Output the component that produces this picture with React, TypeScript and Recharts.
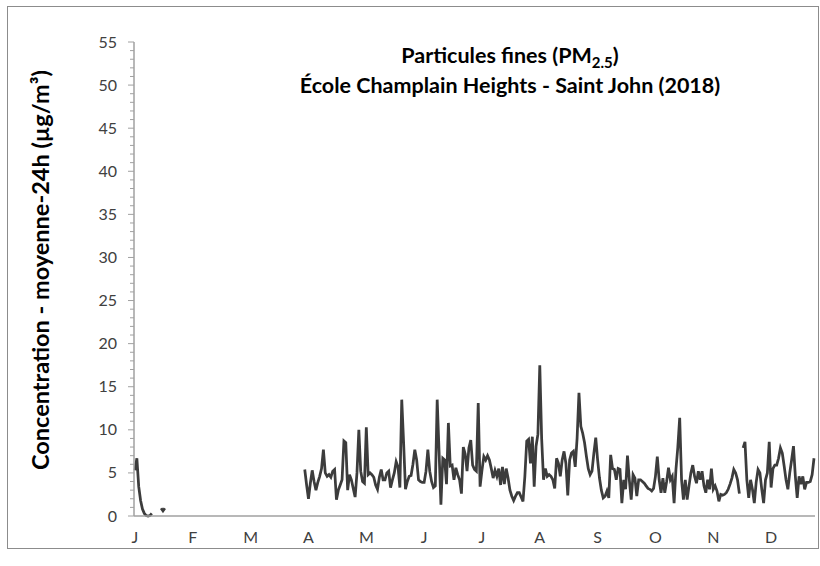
import React from 'react';
import { LineChart, Line, XAxis, YAxis } from 'recharts';

const monthLetters = ['J', 'F', 'M', 'A', 'M', 'J', 'J', 'A', 'S', 'O', 'N', 'D'];
const N = null;

// Daily 24h-average PM2.5 (µg/m³), 2018, one array per month (null = no data)
const jan = [5.3, 6.7, 3.4, 1.8, 0.8, 0.3, 0.05, 0, 0.05, 0.3, N, N, N, N, 0.9, 0.6, 0.9, N, N, N, N, N, N, N, N, N, N, N, N, N, N];
const feb = [N, N, N, N, N, N, N, N, N, N, N, N, N, N, N, N, N, N, N, N, N, N, N, N, N, N, N, N];
const mar = [N, N, N, N, N, N, N, N, N, N, N, N, N, N, N, N, N, N, N, N, N, N, N, N, N, N, N, N, N, N, N];
const apr = [N, 5.4, 3.6, 2.0, 3.8, 5.3, 4.0, 3.0, 3.9, 4.6, 5.5, 7.7, 5.0, 4.6, 4.8, 4.5, 5.2, 5.4, 1.9, 3.0, 3.6, 4.2, 8.7, 8.5, 3.0, 4.8, 4.2, 3.2, 2.2, 5.0];
const may = [10.0, 5.2, 4.0, 3.8, 10.3, 4.8, 5.0, 4.8, 4.5, 3.6, 3.1, 4.5, 5.4, 4.2, 4.2, 5.0, 5.2, 3.3, 4.2, 5.0, 6.3, 5.7, 3.3, 13.5, 8.5, 3.1, 4.0, 4.6, 4.7, 6.0, 7.7];
const jun = [6.5, 4.2, 4.0, 3.9, 3.9, 5.2, 7.7, 5.2, 4.0, 3.3, 3.5, 13.5, 7.5, 1.3, 6.7, 6.5, 3.7, 10.8, 5.8, 5.9, 4.2, 5.6, 4.8, 4.2, 2.6, 8.0, 7.2, 5.2, 7.9, 8.8];
const jul = [5.9, 5.4, 5.2, 13.1, 3.4, 5.3, 6.9, 6.5, 7.0, 6.5, 5.5, 4.4, 5.3, 4.6, 5.5, 3.6, 5.7, 3.7, 5.5, 4.4, 3.0, 2.3, 1.8, 2.3, 2.7, 2.7, 2.2, 1.7, 4.6, 8.7, 8.9];
const aug = [6.1, 9.2, 3.4, 8.1, 9.5, 17.5, 9.0, 4.2, 5.5, 4.6, 4.8, 4.6, 4.2, 3.2, 6.7, 6.1, 4.6, 6.5, 7.5, 6.1, 2.4, 6.5, 7.3, 7.5, 5.7, 9.0, 14.3, 10.4, 9.6, 8.5, 6.9];
const sep = [5.5, 4.8, 5.2, 7.3, 9.1, 6.5, 4.4, 3.0, 2.1, 2.3, 2.9, 2.1, 7.1, 5.5, 5.4, 4.2, 5.5, 5.4, 1.5, 4.2, 3.1, 7.0, 4.2, 1.9, 4.8, 4.4, 2.3, 4.2, 4.2, 4.0];
const oct = [3.8, 3.5, 3.2, 3.1, 2.9, 3.2, 4.6, 6.9, 4.2, 2.7, 4.4, 2.7, 4.0, 5.6, 4.2, 4.6, 1.5, 5.4, 8.0, 11.4, 4.2, 1.9, 4.2, 1.9, 3.5, 5.0, 5.9, 4.6, 3.8, 5.2, 4.2];
const nov = [5.2, 3.5, 2.7, 4.2, 3.1, 5.5, 3.1, 3.5, 2.9, 1.7, 2.5, 2.4, 2.5, 2.7, 3.1, 3.7, 4.4, 5.4, 5.0, 4.2, 2.6, N, 7.9, 8.6, 4.2, 2.1, 4.2, 3.1, 1.5, 3.9];
const dec = [5.4, 5.0, 3.1, 1.5, 4.2, 5.0, 8.6, 3.3, 5.5, 5.9, 5.9, 6.7, 7.9, 7.3, 5.8, 4.2, 3.1, 5.0, 6.5, 8.1, 4.6, 2.1, 4.6, 3.7, 4.6, 3.1, 3.9, 3.9, 4.0, 4.8, 6.7];

const months = [jan, feb, mar, apr, may, jun, jul, aug, sep, oct, nov, dec];
const yTicks = Array.from({ length: 56 }, (_, i) => i);

const data: { idx: number; m: string; v: number | null }[] = [];
months.forEach((arr, mi) => {
  arr.forEach((v) => {
    data.push({ idx: data.length, m: monthLetters[mi], v });
  });
});

const FONT = 'Lato, "Open Sans", sans-serif';
const AXIS = '#a0a0a0';

const YTick = (props: any) => {
  const { x, y, payload } = props;
  const major = payload.value % 5 === 0;
  return (
    <g>
      <line x1={x - (major ? 6 : 4)} x2={x} y1={y} y2={y} stroke={AXIS} strokeWidth={1} />
      {major && (
        <text x={x - 17} y={y + 5.5} textAnchor="end" fontFamily={FONT} fontSize={16} fill="#404040">
          {payload.value}
        </text>
      )}
    </g>
  );
};

const XTick = (props: any) => {
  const { x, payload } = props;
  const d = data[payload.value];
  return (
    <text x={x} y={543} textAnchor="middle" fontFamily={FONT} fontSize={16} fill="#404040">
      {d ? d.m : ''}
    </text>
  );
};

export default function App() {
  return (
    <div style={{ position: 'absolute', left: 0, top: 0, width: 820, height: 566, background: '#fff' }}>
      <div
        style={{
          position: 'absolute',
          left: 7,
          top: 6,
          width: 810,
          height: 541,
          border: '1px solid #8c8c8c',
        }}
      />
      <div style={{ position: 'absolute', left: 0, top: 0 }}>
        <LineChart width={820} height={566} data={data} margin={{ top: 42, right: 5, bottom: 0, left: 0 }}>
          <XAxis
            dataKey="idx"
            type="category"
            interval={30}
            tickLine={false}
            tickSize={0}
            tickMargin={0}
            height={50}
            padding={{ left: 1, right: 1 }}
            axisLine={{ stroke: AXIS, strokeWidth: 1.5 }}
            tick={<XTick />}
          />
          <YAxis
            type="number"
            domain={[0, 55]}
            ticks={yTicks}
            interval={0}
            width={134}
            tickLine={false}
            tickSize={0}
            tickMargin={0}
            axisLine={{ stroke: AXIS, strokeWidth: 1.5 }}
            tick={<YTick />}
          />
          <Line
            type="linear"
            dataKey="v"
            stroke="#3c3c3c"
            strokeWidth={2.75}
            dot={false}
            connectNulls={false}
            isAnimationActive={false}
          />
        </LineChart>
      </div>
      <svg width={820} height={566} style={{ position: 'absolute', left: 0, top: 0, pointerEvents: 'none' }}>
        <text x={510} y={63} textAnchor="middle" fontFamily={FONT} fontWeight="bold" fontSize={21.5} fill="#000">
          Particules fines (PM
          <tspan fontSize={15} dy={5}>2.5</tspan>
          <tspan dy={-5}>)</tspan>
        </text>
        <text x={510} y={93} textAnchor="middle" fontFamily={FONT} fontWeight="bold" fontSize={21.5} fill="#000">
          École Champlain Heights - Saint John (2018)
        </text>
        <text
          x={0}
          y={0}
          transform="translate(49, 270) rotate(-90)"
          textAnchor="middle"
          fontFamily={FONT}
          fontWeight="bold"
          fontSize={23.5}
          fill="#000"
        >
          Concentration - moyenne-24h (µg/m³)
        </text>
      </svg>
    </div>
  );
}
